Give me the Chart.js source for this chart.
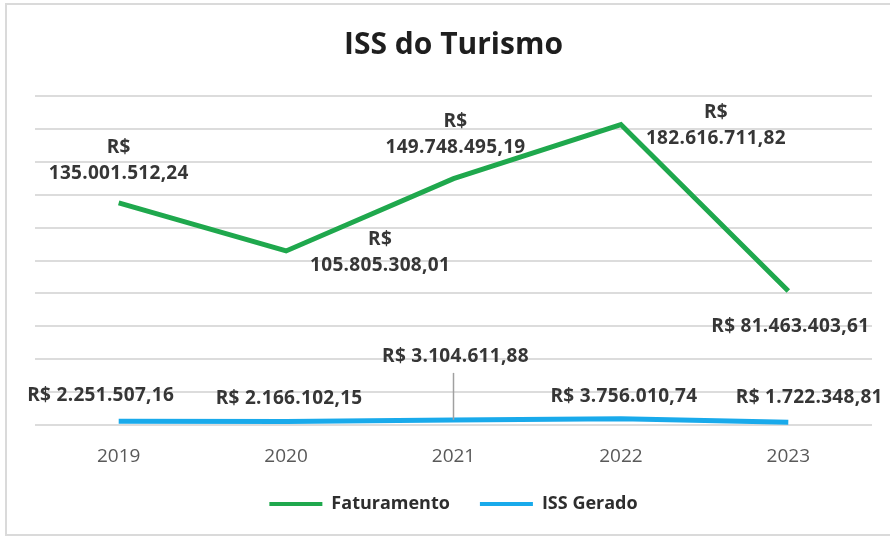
<!DOCTYPE html>
<html>
<head>
<meta charset="utf-8">
<script src="https://cdn.jsdelivr.net/npm/chart.js@4"></script>
<style>
  body { margin: 0; background: #fff; }
  #wrap { position: relative; width: 890px; height: 538px; }
  #frame { position: absolute; left: 5px; top: 3px; width: 900px; height: 529px; border: 2px solid #dadada; border-right: none; }
  canvas { position: absolute; left: 0; top: 0; }
</style>
</head>
<body>
<div id="wrap">
  <div id="frame"></div>
  <canvas id="chart" width="890" height="538"></canvas>
</div>
<script>
// data
let years = ["2019", "2020", "2021", "2022", "2023"];
let faturamento = [135001512.24, 105805308.01, 149748495.19, 182616711.82, 81463403.61];
let issGerado = [2251507.16, 2166102.15, 3104611.88, 3756010.74, 1722348.81];

// where each value label sits relative to its point
let labelSpots = [
  [{dx: 0, dy: -42, split: true}, {dx: 94, dy: 2, split: true}, {dx: 2, dy: -44, split: true}, {dx: 95, dy: 1, split: true}, {dx: 2, dy: 36}],
  [{dx: -18, dy: -26}, {dx: 3, dy: -23}, {dx: 2, dy: -63, leader: true}, {dx: 3, dy: -22}, {dx: 21, dy: -25}]
];

function brl(v) {
  let parts = v.toFixed(2).split(".");
  return "R$ " + parts[0].replace(/\B(?=(\d{3})+(?!\d))/g, ".") + "," + parts[1];
}

let valueLabels = {
  id: "valueLabels",
  afterDatasetsDraw(chart) {
    let ctx = chart.ctx;
    ctx.save();
    ctx.font = 'bold 19px "Open Sans"';
    ctx.letterSpacing = "0.3px";
    ctx.fillStyle = "#363636";
    ctx.textAlign = "center";
    ctx.textBaseline = "middle";
    chart.data.datasets.forEach(function(ds, i) {
      let meta = chart.getDatasetMeta(i);
      meta.data.forEach(function(pt, j) {
        let spot = labelSpots[i][j];
        let txt = brl(ds.data[j]);
        let x = pt.x + spot.dx;
        let y = pt.y + spot.dy;
        if (spot.leader) {
          ctx.strokeStyle = "#a0a0a0";
          ctx.lineWidth = 1.5;
          ctx.beginPath();
          ctx.moveTo(pt.x, y + 16);
          ctx.lineTo(pt.x, pt.y);
          ctx.stroke();
        }
        if (spot.split) {
          ctx.fillText("R$", x, y - 13);
          ctx.fillText(txt.slice(3), x, y + 13);
        } else {
          ctx.fillText(txt, x, y);
        }
      });
    });
    ctx.restore();
  }
};

new Chart(document.getElementById("chart"), {
  type: "line",
  data: {
    labels: years,
    datasets: [
      {
        label: "Faturamento",
        data: faturamento,
        borderColor: "#1fa84d",
        backgroundColor: "#1fa84d",
        borderWidth: 5,
        pointRadius: 0,
        tension: 0
      },
      {
        label: "ISS Gerado",
        data: issGerado,
        borderColor: "#19aaeb",
        backgroundColor: "#19aaeb",
        borderWidth: 5,
        pointRadius: 0,
        tension: 0
      }
    ]
  },
  options: {
    responsive: false,
    animation: false,
    layout: { padding: { left: 35, right: 18, top: 0, bottom: 15 } },
    scales: {
      x: {
        offset: true,
        grid: { display: false, drawTicks: false },
        border: { display: false },
        ticks: { color: "#595959", font: { family: "Open Sans", size: 19 }, padding: 20 },
        afterFit(scale) {
          scale.height = 40;
        }
      },
      y: {
        min: 0,
        max: 200000000,
        ticks: { display: false, stepSize: 20000000 },
        grid: { color: "#dcdcdc", lineWidth: 2, drawTicks: false },
        border: { display: false }
      }
    },
    plugins: {
      title: {
        display: true,
        text: "ISS do Turismo",
        color: "#1e1e1e",
        font: { family: "Open Sans", size: 30, weight: "bold" },
        padding: { top: 27, bottom: 33 }
      },
      legend: {
        position: "bottom",
        labels: {
          color: "#2e2e2e",
          font: { family: "Open Sans", size: 18, weight: "bold" },
          boxWidth: 53,
          boxHeight: 4,
          padding: 30,
          generateLabels(chart) {
            return Chart.defaults.plugins.legend.labels.generateLabels(chart).map(function(item) {
              item.lineWidth = 0;
              item.fillStyle = item.strokeStyle;
              return item;
            });
          }
        }
      },
      tooltip: { enabled: false }
    }
  },
  plugins: [valueLabels]
});
</script>
</body>
</html>
